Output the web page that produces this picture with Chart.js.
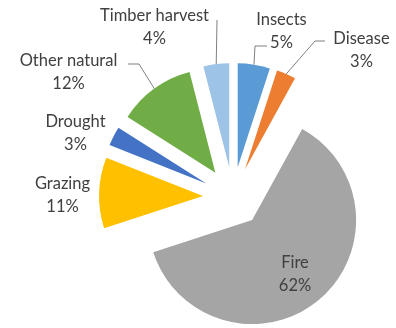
<!DOCTYPE html>
<html>
<head>
<meta charset="utf-8">
<script src="https://cdn.jsdelivr.net/npm/chart.js@4/dist/chart.umd.min.js"></script>
<style>
  html, body { margin: 0; padding: 0; background: #ffffff; }
  #wrap { width: 396px; height: 328px; }
</style>
</head>
<body>
<div id="wrap"><canvas id="chart" width="396" height="328"></canvas></div>
<script>
// Causes of disturbance, share of total (%)
const categories = ['Insects', 'Disease', 'Fire', 'Grazing', 'Drought', 'Other natural', 'Timber harvest'];
const shares = [5, 3, 62, 11, 3, 12, 4];
const sliceColors = ['#5B9BD5', '#ED7D31', '#A5A5A5', '#FFC000', '#4472C4', '#70AD47', '#9DC3E6'];

// Label block centre relative to the pie centre, and optional leader line
// (knee relative to the label centre, then a short horizontal stub toward the text).
const labelPlacement = [
  { dx: 48.5,   dy: -165.5, knee: [-26.5, 14.5], stub: 12 },
  { dx: 128.5,  dy: -146.5, knee: [-46.5, -9.5], stub: 10 },
  { dx: 62,     dy: 77,     knee: null },
  { dx: -170.5, dy: -2,     knee: null },
  { dx: -157.5, dy: -63.5,  knee: null },
  { dx: -164.5, dy: -125,   knee: [70.5, -8],    stub: -11 },
  { dx: -78.5,  dy: -169.5, knee: [62.5, -7.5],  stub: 0 }
];

const EXPLODE = 30;   // every slice pulled out from the centre by this many px

// Draw each arc shifted outward along its mid-angle, keeping one common radius.
const explodedSlices = {
  id: 'explodedSlices',
  beforeDatasetDraw(chart, args) {
    const ctx = chart.ctx;
    args.meta.data.forEach(arc => {
      const mid = (arc.startAngle + arc.endAngle) / 2;
      ctx.save();
      ctx.translate(Math.cos(mid) * EXPLODE, Math.sin(mid) * EXPLODE);
      arc.draw(ctx, chart.chartArea);
      ctx.restore();
    });
    return false;
  }
};

// Category name + percentage, with leader lines for the outside labels.
const sliceLabels = {
  id: 'sliceLabels',
  afterDatasetsDraw(chart) {
    const ctx = chart.ctx;
    const meta = chart.getDatasetMeta(0);
    const values = chart.data.datasets[0].data;
    const total = values.reduce((a, b) => a + b, 0);
    ctx.save();
    ctx.font = '16.5px Lato';
    ctx.textAlign = 'center';
    ctx.textBaseline = 'middle';
    meta.data.forEach((arc, i) => {
      const p = labelPlacement[i];
      const lx = arc.x + p.dx;
      const ly = arc.y + p.dy;
      const pct = Math.round(values[i] / total * 100) + '%';
      ctx.fillStyle = '#404040';
      ctx.fillText(chart.data.labels[i], lx, ly - 11.5);
      ctx.fillText(pct, lx, ly + 11.5);
      if (p.knee) {
        const mid = (arc.startAngle + arc.endAngle) / 2;
        const r = arc.outerRadius + EXPLODE;
        const sx = arc.x + Math.cos(mid) * r;
        const sy = arc.y + Math.sin(mid) * r;
        const kx = lx + p.knee[0];
        const ky = ly + p.knee[1];
        ctx.strokeStyle = '#7F7F7F';
        ctx.lineWidth = 1;
        ctx.beginPath();
        ctx.moveTo(sx, sy);
        ctx.lineTo(kx, ky);
        ctx.lineTo(kx + p.stub, ky);
        ctx.stroke();
      }
    });
    ctx.restore();
  }
};

new Chart(document.getElementById('chart'), {
  type: 'pie',
  data: {
    labels: categories,
    datasets: [{
      data: shares,
      backgroundColor: sliceColors,
      borderWidth: 0
    }]
  },
  options: {
    responsive: false,
    animation: false,
    events: [],
    radius: 104,
    layout: { padding: { left: 70, top: 66, right: 0, bottom: 0 } },
    plugins: {
      legend: { display: false },
      tooltip: { enabled: false }
    }
  },
  plugins: [explodedSlices, sliceLabels]
});
</script>
</body>
</html>
